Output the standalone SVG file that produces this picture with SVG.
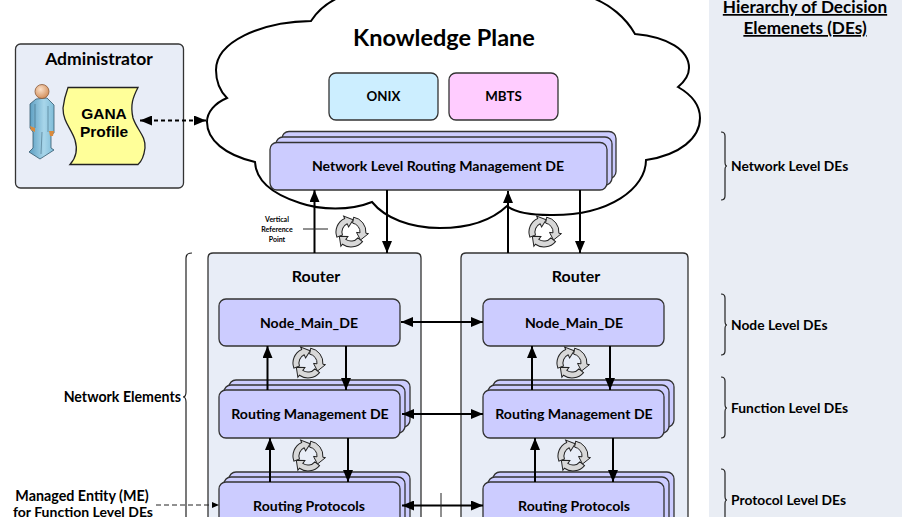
<svg xmlns="http://www.w3.org/2000/svg" width="918" height="517" viewBox="0 0 918 517">
<style>
text{font-family:Lato,Carlito,"Open Sans",sans-serif;font-weight:700;fill:#000;text-anchor:middle}
.de{fill:#ccccff;stroke:#333;stroke-width:1.3}
.rt{fill:#e8edf7;stroke:#333;stroke-width:1.3}
.l{font-size:14.1px}
.side{font-size:13.8px;text-anchor:start}
.c{fill:none;stroke:#000;stroke-width:2}
.br{fill:none;stroke:#222;stroke-width:1.2}
.cy{fill:#d8d8d8;stroke:#222;stroke-width:1}
</style>
<defs>
<marker id="a" markerWidth="13" markerHeight="10" refX="12" refY="5" orient="auto-start-reverse" markerUnits="userSpaceOnUse"><path d="M0 0L12 5L0 10z" fill="#000"/></marker>
<marker id="s" markerWidth="8" markerHeight="6" refX="7" refY="3" orient="auto" markerUnits="userSpaceOnUse"><path d="M0 0L7 3L0 6z" fill="#000"/></marker>
<linearGradient id="body" x1="0" x2="1" y1="0" y2="0"><stop offset="0" stop-color="#5a9cc0"/><stop offset=".6" stop-color="#a8d6ea"/><stop offset="1" stop-color="#7fbcd8"/></linearGradient>
<radialGradient id="head" cx=".4" cy=".35" r=".7"><stop offset="0" stop-color="#fbe0c8"/><stop offset="1" stop-color="#d08a55"/></radialGradient>
<path id="seg" class="cy" d="M2.600-14.800A15 15 0 0 1 14.900 1.300L17.500 1.600L9.500 8L5.500 .4L9 .8A9 9 0 0 0 1.600-8.900Z"/>
<g id="cycle"><use href="#seg"/><use href="#seg" transform="rotate(120)"/><use href="#seg" transform="rotate(240)"/></g>
</defs>

<rect id="panel" x="709" y="0" width="193" height="517" fill="#e9edf4"/>

<g id="cloud"><path d="M311 21C318 10 326 3 340-3L590-3C610 4 626 18 635 34C668 37 689 50 689 68C689 75 684 82 678 87C692 95 700 105 700 118C700 138 680 155 646 160C646 188 610 216 550 215C530 215 515 212 507 206C490 222 465 228 440 228C410 228 385 218 372 202C350 211 320 210 300 203C275 195 256 182 255 162C225 155 207 140 207 122C207 112 215 103 227 98C219 90 216 80 216 70C216 42 260 22 311 21Z" fill="#fff" stroke="#000" stroke-width="2"/></g>

<g id="administrator">
<rect class="rt" x="15.500" y="44" width="168" height="144" rx="5"/>
<text x="99" y="65" font-size="17.500">Administrator</text>
<path d="M30 104L36 99L47 98L54 105L54 133L51 134L51 148L54 150L40 159L29 152L33 148L33 132L30 128Z" fill="url(#body)" stroke="#34586c" stroke-width=".8"/>
<path d="M35 104L35 128M48 106L48 132M42 132L41 154" fill="none" stroke="#34586c" stroke-width=".7" opacity=".7"/>
<path d="M30 126L35 128L35 132L31 130ZM49 131L54 131L53 136L50 136Z" fill="#d98a3c"/>
<circle cx="42" cy="91.500" r="7" fill="url(#head)" stroke="#8a5a3a" stroke-width=".8"/>
<path d="M68 87.500H138C133 97 130 105 133 118C137 130 146 136 145 148C144 156 142 161 138 164.500H70C76 158 78 150 75 140C71 128 63 122 63 108C64 100 66 93 68 87.500Z" fill="#ffff99" stroke="#222" stroke-width="1.300"/>
<text x="104" y="119" style="font-family:'Liberation Sans',Arial,sans-serif" font-size="15.500">GANA</text>
<text x="104" y="137" style="font-family:'Liberation Sans',Arial,sans-serif" font-size="15.500">Profile</text>
</g>

<g id="knowledge-plane">
<text x="444" y="46" font-size="23.500">Knowledge Plane</text>
</g>
<g id="onix"><rect x="329" y="73" width="109" height="47" rx="7" fill="#cceeff" stroke="#333" stroke-width="1.300"/><text x="383.500" y="101" font-size="13.300">ONIX</text></g>
<g id="mbts"><rect x="449" y="73" width="109" height="47" rx="7" fill="#ffccff" stroke="#333" stroke-width="1.300"/><text x="503.500" y="101" font-size="13.300">MBTS</text></g>

<g id="network-de">
<rect class="de" x="282" y="131.500" width="334" height="47" rx="7"/>
<rect class="de" x="276" y="137" width="336" height="48" rx="7"/>
<rect class="de" x="270" y="142.500" width="337" height="47.500" rx="7"/>
<text class="l" x="438" y="171">Network Level Routing Management DE</text>
</g>

<g id="router-left"><path class="rt" d="M208 530V258Q208 253 213 253H416Q421 253 421 258V530"/><text x="316" y="282" font-size="16">Router</text></g>
<g id="router-right"><path class="rt" d="M461 530V258Q461 253 466 253H683Q688 253 688 258V530"/><text x="576" y="282" font-size="16">Router</text></g>

<g id="node-left"><rect class="de" x="219" y="299" width="181" height="47" rx="7"/><text class="l" x="309" y="328">Node_Main_DE</text></g>
<g id="node-right"><rect class="de" x="483" y="299" width="181" height="47" rx="7"/><text class="l" x="574" y="328">Node_Main_DE</text></g>

<g id="rm-left">
<rect class="de" x="229" y="380" width="181" height="47" rx="7"/><rect class="de" x="224" y="385" width="181" height="48" rx="7"/><rect class="de" x="219" y="390" width="181" height="48" rx="7"/>
<text class="l" x="310" y="419">Routing Management DE</text></g>
<g id="rm-right">
<rect class="de" x="493" y="380" width="181" height="47" rx="7"/><rect class="de" x="488" y="385" width="181" height="48" rx="7"/><rect class="de" x="483" y="390" width="181" height="48" rx="7"/>
<text class="l" x="574" y="419">Routing Management DE</text></g>
<g id="rp-left">
<rect class="de" x="229" y="472" width="181" height="60" rx="7"/><rect class="de" x="224" y="477" width="181" height="60" rx="7"/><rect class="de" x="219" y="482" width="181" height="60" rx="7"/>
<text class="l" x="309" y="511">Routing Protocols</text></g>
<g id="rp-right">
<rect class="de" x="493" y="472" width="181" height="60" rx="7"/><rect class="de" x="488" y="477" width="181" height="60" rx="7"/><rect class="de" x="483" y="482" width="181" height="60" rx="7"/>
<text class="l" x="574" y="511">Routing Protocols</text></g>

<g id="connectors">
<path class="c" d="M140 120.500H206" stroke-dasharray="4 3" marker-start="url(#a)" marker-end="url(#a)"/>
<path class="c" d="M314.500 253V190" marker-end="url(#a)"/>
<path class="c" d="M387 190V253" marker-end="url(#a)"/>
<path class="c" d="M508 253V191" marker-end="url(#a)"/>
<path class="c" d="M580 190V253" marker-end="url(#a)"/>
<path class="c" d="M267.500 390V346" marker-end="url(#a)"/>
<path class="c" d="M346 346V390" marker-end="url(#a)"/>
<path class="c" d="M270 482V438" marker-end="url(#a)"/>
<path class="c" d="M348 438V482" marker-end="url(#a)"/>
<path class="c" d="M532 390V346" marker-end="url(#a)"/>
<path class="c" d="M610 346V390" marker-end="url(#a)"/>
<path class="c" d="M535 482V438" marker-end="url(#a)"/>
<path class="c" d="M613 438V482" marker-end="url(#a)"/>
<path class="c" d="M401 322H483" marker-start="url(#a)" marker-end="url(#a)"/>
<path class="c" d="M402 414H483" marker-start="url(#a)" marker-end="url(#a)"/>
<path class="c" d="M402 505.500H483" marker-start="url(#a)" marker-end="url(#a)"/>
<path d="M441 493V517" stroke="#222" stroke-width="1" fill="none"/>
<path d="M156 505H219" stroke="#222" stroke-width="1" stroke-dasharray="5 3" fill="none" marker-end="url(#s)"/>
<path d="M303 229H328" stroke="#222" stroke-width="1" fill="none"/>
</g>

<g id="cycles">
<use href="#cycle" x="351" y="232"/><use href="#cycle" x="544" y="232"/>
<use href="#cycle" x="308" y="363"/><use href="#cycle" x="572" y="363"/>
<use href="#cycle" x="308" y="456"/><use href="#cycle" x="573" y="456"/>
</g>

<g id="labels">
<text x="277" y="222" font-size="7">Vertical</text>
<text x="277" y="232" font-size="7">Reference</text>
<text x="277" y="242" font-size="7">Point</text>
<path class="br" d="M192 253Q186 253 186 258V392Q186 397 183 397Q186 397 186 402V517"/>
<text x="181" y="402" font-size="14.200" style="text-anchor:end">Network Elements</text>
<text x="82" y="501" font-size="14.300">Managed Entity (ME)</text>
<text x="83" y="517" font-size="14">for Function Level DEs</text>
<text x="805" y="13" font-size="17.200" text-decoration="underline">Hierarchy of Decision</text>
<text x="805" y="34" font-size="17.200" text-decoration="underline">Elemenets (DEs)</text>
<path class="br" d="M721 132Q725 132 725 136V162Q725 166 727 166Q725 166 725 170V196Q725 200 721 200"/>
<text class="side" x="731" y="171">Network Level DEs</text>
<path class="br" d="M721 294Q725 294 725 298V321Q725 325 727 325Q725 325 725 329V351Q725 355 721 355"/>
<text class="side" x="731" y="330">Node Level DEs</text>
<path class="br" d="M721 377Q725 377 725 381V404Q725 408 727 408Q725 408 725 412V434Q725 438 721 438"/>
<text class="side" x="731" y="413">Function Level DEs</text>
<path class="br" d="M721 469Q725 469 725 473V496Q725 500 727 500Q725 500 725 504V530"/>
<text class="side" x="731" y="505">Protocol Level DEs</text>
</g>
</svg>
